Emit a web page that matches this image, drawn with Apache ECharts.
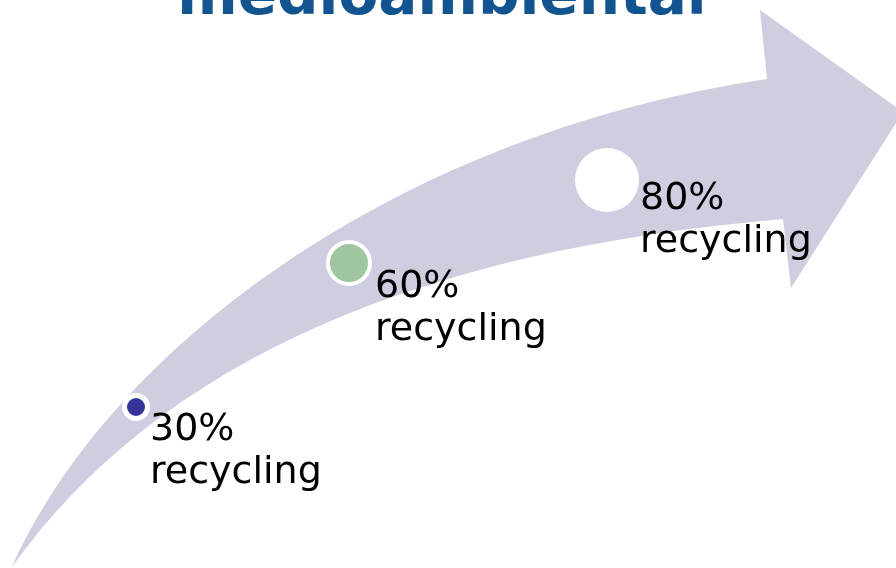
<!DOCTYPE html>
<html><head><meta charset="utf-8">
<script src="https://cdn.jsdelivr.net/npm/echarts@6/dist/echarts.min.js"></script>
<style>html,body{margin:0;padding:0;background:#fff}#c{width:896px;height:568px}</style>
</head><body><div id="c"></div>
<script>
// ---- data ----
const titleText = 'medioambiental';
const milestoneLabels = ['30%\nrecycling', '60%\nrecycling', '80%\nrecycling'];
const recyclingRates = [30, 60, 80];
const milestoneX = [136, 349, 607];
const milestoneY = [407, 263, 180];
// arrow outline (in axis units)
const shaftTopCurve = [[12, 567], [120, 330], [420, 130], [767, 79]];
const arrowHead = [[760, 10], [903, 112], [791, 288], [783, 219]];
const shaftBottomCurve = [[783, 219], [420, 250], [160, 360], [12, 567]];

// ---- styles ----
const dotStyles = [
  { size: 23, color: '#333399', border: 5 },
  { size: 42, color: '#a0c6a0', border: 4 },
  { size: 64, color: '#ffffff', border: 0 }
];
const labelOffsets = [[14, 2], [26, 3], [33, -2]];

const chart = echarts.init(document.getElementById('c'));

function arrowPath(api) {
  const p = a => api.coord(a);
  const t = shaftTopCurve.map(p), h = arrowHead.map(p), b = shaftBottomCurve.map(p);
  let d = 'M' + t[0][0] + ' ' + t[0][1] + ' C' + t[1][0] + ' ' + t[1][1] + ' ' + t[2][0] + ' ' + t[2][1] + ' ' + t[3][0] + ' ' + t[3][1];
  h.forEach(q => { d += ' L' + q[0] + ' ' + q[1]; });
  d += ' C' + b[1][0] + ' ' + b[1][1] + ' ' + b[2][0] + ' ' + b[2][1] + ' ' + b[3][0] + ' ' + b[3][1] + ' Z';
  return d;
}

chart.setOption({
  animation: false,
  backgroundColor: '#ffffff',
  grid: { left: 0, right: 0, top: 0, bottom: 0 },
  xAxis: { type: 'value', min: 0, max: 896, show: false },
  yAxis: { type: 'value', min: 0, max: 568, inverse: true, show: false },
  graphic: [{
    type: 'text', x: 442, y: -1,
    style: {
      text: titleText, fill: '#11548f',
      font: 'bold 58px "DejaVu Sans", Verdana, sans-serif',
      textAlign: 'center', textVerticalAlign: 'middle'
    }
  }],
  series: [
    {
      type: 'custom', silent: true, z: 1,
      data: [[0, 0]],
      renderItem: function (params, api) {
        return { type: 'path', shape: { pathData: arrowPath(api) }, style: { fill: '#cecee0' } };
      }
    },
    {
      type: 'scatter', z: 3, silent: true,
      data: recyclingRates.map((v, i) => ({
        name: milestoneLabels[i],
        value: [milestoneX[i], milestoneY[i], v],
        symbolSize: dotStyles[i].size,
        itemStyle: { color: dotStyles[i].color, borderColor: '#ffffff', borderWidth: dotStyles[i].border, opacity: 1 },
        label: { offset: labelOffsets[i] }
      })),
      label: {
        show: true, formatter: '{b}', position: 'inside',
        align: 'left', verticalAlign: 'top',
        fontFamily: '"DejaVu Sans", Verdana, sans-serif',
        fontSize: 38, lineHeight: 43, color: '#000000'
      }
    }
  ]
});
</script>
</body></html>
